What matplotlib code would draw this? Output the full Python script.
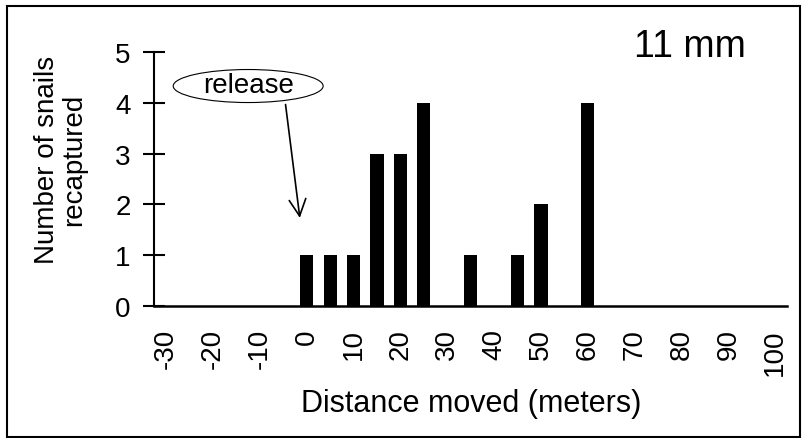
import matplotlib
matplotlib.use("Agg")
import matplotlib.pyplot as plt
from matplotlib.patches import Ellipse, Rectangle

plt.rcParams['font.family'] = ['Liberation Sans', 'DejaVu Sans']

# distance class (m) and number of snails recaptured
distance = [0, 5, 10, 15, 20, 25, 35, 45, 50, 60]
snails = [1, 1, 1, 3, 3, 4, 1, 1, 2, 4]
xticks = list(range(-30, 101, 10))
yticks = [0, 1, 2, 3, 4, 5]

fig = plt.figure(figsize=(8.02, 4.39), dpi=100)
ax = fig.add_axes([0.1926, 0.3007, 0.7887, 0.5786])

ax.bar(distance, snails, width=2.8, color='black')

ax.set_xlim(-32.5, 102.5)
ax.set_ylim(0, 5)
ax.set_xticks(xticks)
ax.set_xticklabels([str(t) for t in xticks], rotation=90, fontsize=20)
ax.set_yticks(yticks)
ax.tick_params(axis='y', direction='inout', length=16, width=1.5, labelsize=20, pad=9)
ax.tick_params(axis='x', length=0, pad=16)
for lab in ax.get_xticklabels():
    lab.set_va('top')

for s in ['top', 'right']:
    ax.spines[s].set_visible(False)
ax.spines['left'].set_linewidth(1.5)
ax.spines['bottom'].set_linewidth(1.8)

ax.set_xlabel('Distance moved (meters)', fontsize=22, va='center')
ax.xaxis.set_label_coords(0.5, -0.38)
ax.set_ylabel('Number of snails\nrecaptured', fontsize=20, va='center',
              multialignment='center', linespacing=1.05)
ax.yaxis.set_label_coords(-0.148, 0.58)

ax.text(0.847, 1.023, '11 mm', transform=ax.transAxes, fontsize=27,
        ha='center', va='center')

# release marker
ax.add_patch(Ellipse((-12.5, 4.33), 32, 0.65, facecolor='white',
                     edgecolor='black', lw=0.8, clip_on=False, zorder=3))
ax.text(-12.5, 4.35, 'release', fontsize=20, ha='center', va='center', zorder=4)
ax.annotate('', xy=(-1.4, 1.68), xytext=(-4.6, 4.02),
            arrowprops=dict(arrowstyle='->', lw=1.2, mutation_scale=30,
                            color='black'))

fig.patches.append(Rectangle((7 / 802, 1 / 439), 793 / 802, 431 / 439,
                             transform=fig.transFigure, fill=False,
                             edgecolor='black', lw=1.5))

fig.savefig('out.png', dpi=100)
